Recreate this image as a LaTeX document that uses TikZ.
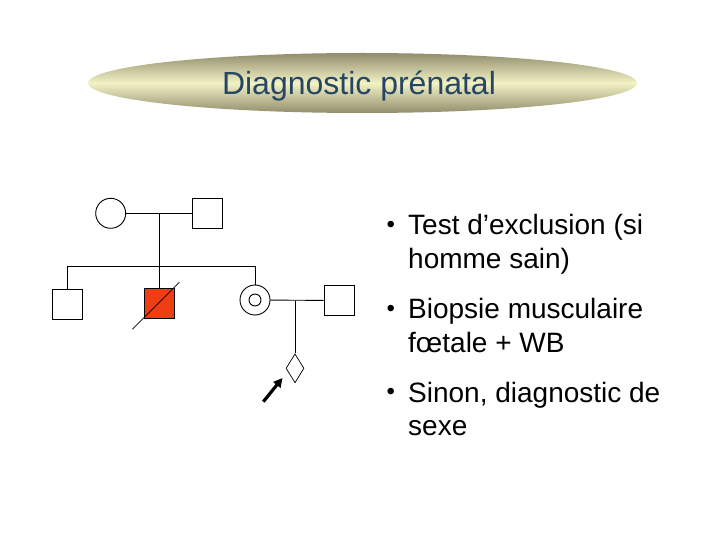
\documentclass[tikz,border=0pt]{standalone}
\usepackage{fontspec}
\setmainfont{Liberation Sans}
\usetikzlibrary{shapes.geometric,arrows.meta}
\definecolor{titleblue}{RGB}{38,70,100}
\definecolor{affred}{RGB}{240,62,20}
\definecolor{ovdark}{RGB}{145,141,108}
\definecolor{ovlight}{RGB}{242,242,196}
\tikzset{
  male/.style={draw,rectangle,minimum size=30pt,inner sep=0pt,line width=0.9pt},
  female/.style={draw,circle,minimum size=30pt,inner sep=0pt,line width=0.9pt},
  fetus/.style={draw,diamond,minimum width=18pt,minimum height=29pt,inner sep=0pt,line width=0.7pt},
  link/.style={line width=0.9pt},
  bul/.style={anchor=base west,inner sep=0pt,font=\fontsize{28}{33.6}\selectfont},
  dot/.style={anchor=base west,inner sep=0pt,font=\fontsize{24}{28}\selectfont},
}
\begin{document}
\begin{tikzpicture}[x=1pt,y=-1pt]
\useasboundingbox[fill=white] (0,0) rectangle (720,540);
% title banner
\path[top color=ovdark,bottom color=ovdark,middle color=ovlight] (362.5,83) ellipse [x radius=274.5,y radius=30];
\node[inner sep=0pt,anchor=base,text=titleblue,font=\fontsize{32}{38}\selectfont] (title) at (359,95) {Diagnostic prénatal};
% pedigree
\node[female] (gm) at (110.7,213.3) {};
\node[male] (gf) at (207.3,213.3) {};
\draw[link] (gm) -- (gf);
\coordinate (m1) at (159.3,213.3);
\coordinate (s1) at (159.3,266.3);
\draw[link] (m1) -- (s1);
\node[male] (c1) at (67.3,304.3) {};
\node[male,fill=affred] (c2) at (159.3,303.3) {};
\node[female] (c3) at (255,300) {};
\node[draw,circle,minimum size=12pt,inner sep=0pt,line width=0.9pt] (c3in) at (c3) {};
\draw[link] (c1 |- s1) -- (c3 |- s1);
\draw[link] (c1 |- s1) -- (c1);
\draw[link] (s1) -- (c2);
\draw[link] (c3 |- s1) -- (c3);
\draw[line width=0.8pt] ([shift={(-27,26)}]c2.center) -- ([shift={(20,-21)}]c2.center);
\node[male] (sp) at (339,300.5) {};
\draw[link] (c3) -- (sp);
\coordinate (m2) at (295,300.5);
\node[fetus] (fe) at (295,368.3) {};
\draw[link] (m2) -- (fe.north);
\coordinate (ar1) at (263.3,401.7);
\coordinate (ar2) at (282.5,378);
\draw[line width=3.2pt,-{Triangle[length=9pt,width=9pt]}] (ar1) -- (ar2);
% bullets
\node[dot] (b1) at (386.5,232.5) {•};
\node[bul] (t1a) at (408,235) {Test d’exclusion (si};
\node[bul] (t1b) at (408,268.6) {homme sain)};
\node[dot] (b2) at (386.5,316) {•};
\node[bul] (t2a) at (408,318.5) {Biopsie musculaire};
\node[bul] (t2b) at (408,352.1) {fœtale + WB};
\node[dot] (b3) at (386.5,399.5) {•};
\node[bul] (t3a) at (408,402) {Sinon, diagnostic de};
\node[bul] (t3b) at (408,435.6) {sexe};
\end{tikzpicture}
\end{document}
